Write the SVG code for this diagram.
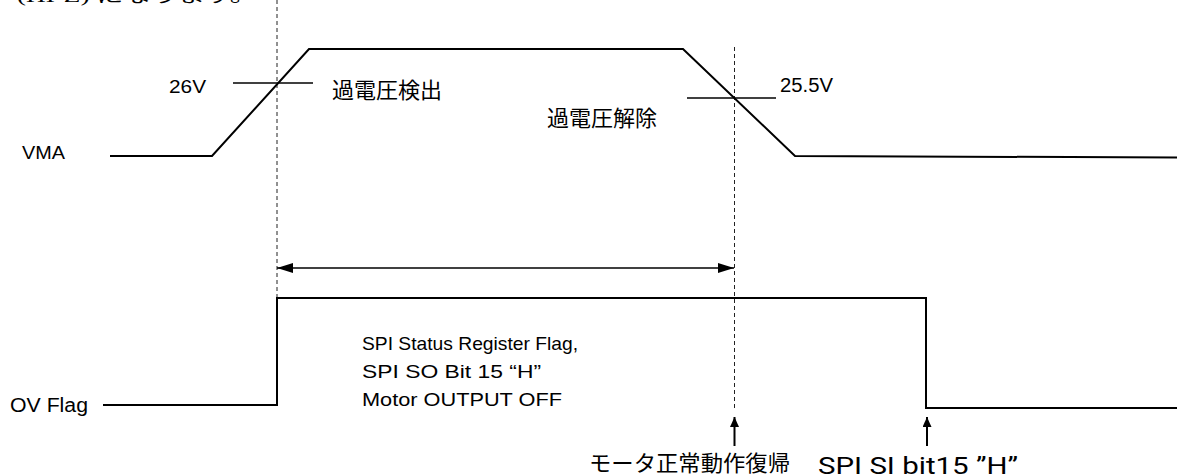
<svg xmlns="http://www.w3.org/2000/svg" width="1177" height="475" viewBox="0 0 1177 475">
<style>
.bg{fill:#fff}
.sig{fill:none;stroke:#000;stroke-width:2}
.thin{fill:none;stroke:#000;stroke-width:1.3}
.dash{fill:none;stroke:#222;stroke-width:1;stroke-dasharray:4,3}
.lbl{font-family:"Liberation Sans","Noto Sans CJK JP",sans-serif;fill:#000}
.jp{font-family:"Noto Sans CJK JP","Liberation Sans",sans-serif;fill:#000}
.serif{font-family:"Liberation Serif","Noto Sans CJK JP",serif;fill:#000}
.rob{font-family:Roboto,"Liberation Sans",sans-serif;fill:#000}
</style>
<defs>
<marker id="ah" viewBox="0 0 16 10" refX="16" refY="5" markerWidth="16" markerHeight="10" markerUnits="userSpaceOnUse" orient="auto-start-reverse">
<path d="M0,0 L16,5 L0,10 Z" fill="#000"/>
</marker>
<marker id="up" viewBox="0 0 10 9" refX="10" refY="4.5" markerWidth="10" markerHeight="9" markerUnits="userSpaceOnUse" orient="auto">
<path d="M0,0 L10,4.5 L0,9 Z" fill="#000"/>
</marker>
</defs>
<rect class="bg" x="0" y="0" width="1177" height="475"/>
<text class="serif" x="17" y="2" font-size="17" textLength="240" lengthAdjust="spacingAndGlyphs">(HI-Z) になります。</text>

<g id="guides">
<line class="dash" x1="277" y1="0" x2="277" y2="297"/>
<line class="dash" x1="734.5" y1="47" x2="734.5" y2="410"/>
</g>

<g id="vma">
<text class="lbl" x="22" y="159" font-size="19" textLength="43" lengthAdjust="spacingAndGlyphs">VMA</text>
<polyline class="sig" points="110,156 212,156 309,49 683,49 795,156 1177,157.5"/>
</g>

<g id="th26">
<line class="thin" x1="233" y1="83" x2="313" y2="83"/>
<text class="lbl" x="169" y="93" font-size="19" textLength="37" lengthAdjust="spacingAndGlyphs">26V</text>
<text class="jp" x="332" y="98" font-size="22">過電圧検出</text>
</g>

<g id="th255">
<line class="thin" x1="687" y1="98" x2="776" y2="98"/>
<text class="lbl" x="780" y="92" font-size="20" textLength="53" lengthAdjust="spacingAndGlyphs">25.5V</text>
<text class="jp" x="547" y="126" font-size="22">過電圧解除</text>
</g>

<g id="ovflag">
<text class="lbl" x="10" y="412" font-size="20" textLength="78" lengthAdjust="spacingAndGlyphs">OV Flag</text>
<polyline class="sig" points="103,405 277,405 277,298 926,298 926,408 1177,408"/>
</g>

<g id="status">
<text class="lbl" x="362" y="350" font-size="19" textLength="216" lengthAdjust="spacingAndGlyphs">SPI Status Register Flag,</text>
<text class="lbl" x="362" y="378" font-size="19" textLength="179" lengthAdjust="spacingAndGlyphs">SPI SO Bit 15 “H”</text>
<text class="lbl" x="362" y="406" font-size="19" textLength="200" lengthAdjust="spacingAndGlyphs">Motor OUTPUT OFF</text>
</g>

<g id="connectors">
<line class="thin" x1="277" y1="268" x2="734" y2="268" marker-start="url(#ah)" marker-end="url(#ah)"/>
<line class="sig" x1="734.5" y1="446" x2="734.5" y2="417" marker-end="url(#up)"/>
<line class="sig" x1="927" y1="446" x2="927" y2="417" marker-end="url(#up)"/>
</g>

<g id="ev1">
<text class="jp" x="589" y="471" font-size="22" textLength="201" lengthAdjust="spacingAndGlyphs">モータ正常動作復帰</text>
</g>
<g id="ev2">
<text class="rob" x="818" y="474" font-size="23" textLength="200" lengthAdjust="spacingAndGlyphs">SPI SI bit15 ”H”</text>
</g>
</svg>
